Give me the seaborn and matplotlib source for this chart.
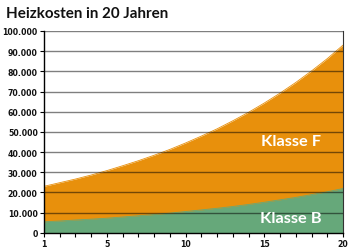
import matplotlib
matplotlib.use("Agg")
import matplotlib.pyplot as plt
import seaborn as sns
import pandas as pd
from matplotlib.ticker import FixedLocator, MultipleLocator

years = list(range(1, 21))
klasse_f = [23000, 24800, 26600, 28600, 30800, 33200, 35700, 38400, 41300, 44500,
            47900, 51500, 55500, 59700, 64300, 69200, 74500, 80200, 86300, 93000]
klasse_b = [5400, 5800, 6300, 6700, 7200, 7800, 8400, 9000, 9700, 10500,
            11300, 12100, 13000, 14000, 15100, 16300, 17500, 18900, 20300, 21900]
y_ticks = [0, 10000, 20000, 30000, 40000, 50000, 60000, 70000, 80000, 90000, 100000]
y_labels = ["0", "10.000", "20.000", "30.000", "40.000", "50.000",
            "60.000", "70.000", "80.000", "90.000", "100.000"]
x_ticks = [1, 5, 10, 15, 20]
title = "Heizkosten in 20 Jahren"
label_f = "Klasse F"
label_b = "Klasse B"

ORANGE = "#E8900C"
GREEN = "#66A87A"

df = pd.DataFrame({"Jahr": years, "F": klasse_f, "B": klasse_b})

sns.set_theme(style="white")
plt.rcParams["font.family"] = ["DejaVu Sans"]

fig = plt.figure(figsize=(3.5, 2.53), dpi=100)
ax = fig.add_axes([44 / 350, 1 - 233.7 / 253, (343 - 44) / 350, (233.7 - 32) / 253])

ax.fill_between(df["Jahr"], 0, df["F"], color=ORANGE, lw=0, zorder=1)
ax.fill_between(df["Jahr"], 0, df["B"], color=GREEN, lw=0, zorder=2)
sns.lineplot(data=df, x="Jahr", y="F", ax=ax, color=ORANGE, lw=0.6, zorder=1)
sns.lineplot(data=df, x="Jahr", y="B", ax=ax, color=GREEN, lw=0.6, zorder=2)

for yv in y_ticks[1:]:
    ax.axhline(yv, color="black", alpha=0.5, lw=1.0, zorder=3)

ax.set_xlim(1, 20)
ax.set_ylim(0, 100000)
ax.set_xlabel("")
ax.set_ylabel("")
ax.set_yticks(y_ticks)
ax.set_yticklabels(y_labels, fontsize=5.6, fontweight="bold", color="#111111")
ax.xaxis.set_major_locator(FixedLocator(x_ticks))
ax.set_xticklabels([str(v) for v in x_ticks], fontsize=5.6, fontweight="bold", color="#111111")
ax.xaxis.set_minor_locator(MultipleLocator(1))
ax.tick_params(axis="both", which="both", direction="out", color="black", width=0.8)
ax.tick_params(axis="y", which="major", length=3, pad=1.5, left=True)
ax.tick_params(axis="x", which="major", length=3, pad=1.5, bottom=True)
ax.tick_params(axis="x", which="minor", length=3, bottom=True)

for side in ["left", "bottom"]:
    ax.spines[side].set_color("black")
    ax.spines[side].set_linewidth(1.0)
ax.spines["right"].set_color("#333333")
ax.spines["right"].set_linewidth(0.8)
ax.spines["top"].set_visible(False)

ax.text(16.7, 45500, label_f, color="white", fontsize=11.8, fontweight="bold",
        family="Lato", ha="center", va="center", zorder=4)
ax.text(16.7, 7300, label_b, color="white", fontsize=11.8, fontweight="bold",
        family="Lato", ha="center", va="center", zorder=4)

fig.text(6 / 350, 1 - 18.3 / 253, title, fontsize=10.9, fontweight="bold",
         family="Lato", color="#111111", ha="left", va="baseline")

fig.savefig("out.png", dpi=100)
